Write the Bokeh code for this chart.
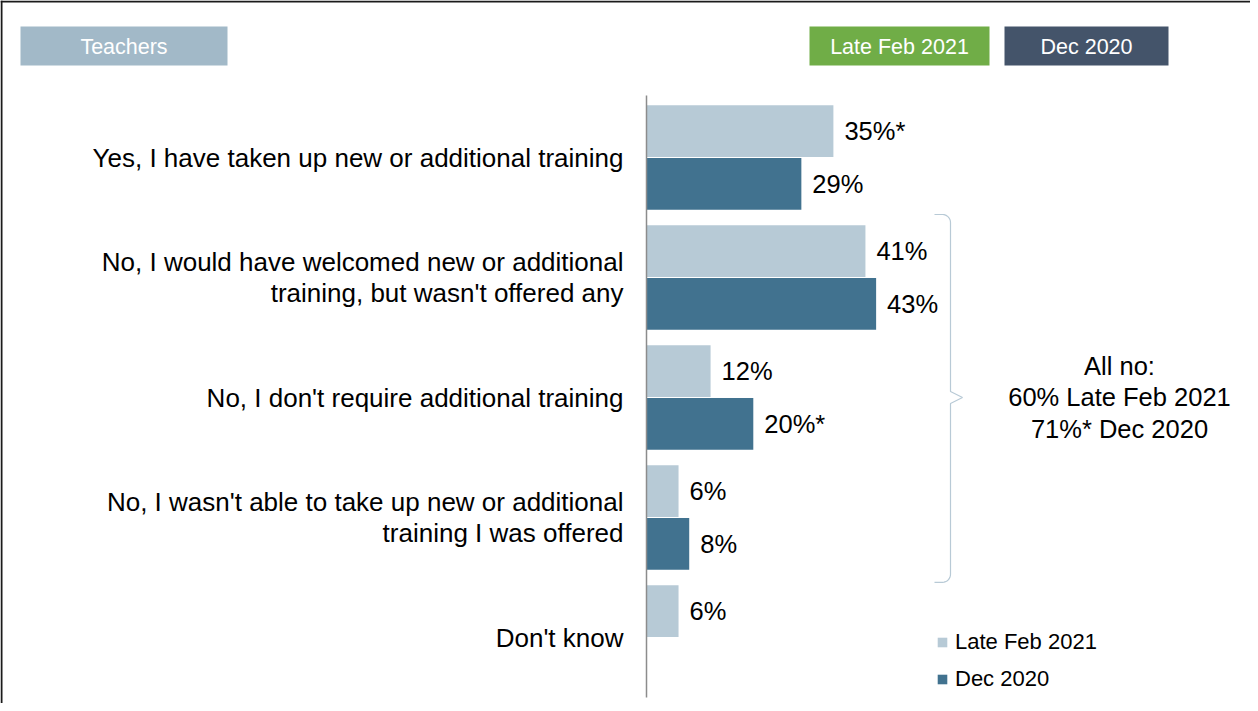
from bokeh.plotting import figure
from bokeh.models import Range1d, Legend, LegendItem, Span, ColumnDataSource
from bokeh.core.properties import value
from bokeh.embed import file_html
from bokeh.resources import INLINE
import math

# ---------------- data ----------------
categories = [
    "Yes, I have taken up new or additional training",
    "No, I would have welcomed new or additional\ntraining, but wasn't offered any",
    "No, I don't require additional training",
    "No, I wasn't able to take up new or additional\ntraining I was offered",
    "Don't know",
]
late_feb_2021 = [35, 41, 12, 6, 6]
dec_2020 = [29, 43, 20, 8, None]
late_sig = [True, False, False, False, False]
dec_sig = [False, False, True, False, False]
series_names = ["Late Feb 2021", "Dec 2020"]
group_title = "Teachers"
all_no_late = 60
all_no_dec = 71
all_no_dec_sig = True

# ---------------- layout helpers ----------------
W, H = 1250, 703
AX = 646.0        # pixel position of the value axis in the figure
PPX = 5.34        # pixels per percentage point
CAT0 = 157.0      # pixel y of first category centre
PPC = 120.0       # pixels per category

def X(px):  # figure px -> data x
    return (px - AX) / PPX

def Y(py):  # figure px -> data y
    return (py - CAT0) / PPC

FONT_NAME = "Liberation Sans"
FONT = value(FONT_NAME)
LIGHT = "#B7CAD6"
DARK = "#41728F"

p = figure(width=W, height=H, output_backend="svg", toolbar_location=None,
           x_range=Range1d(X(0), X(W)), y_range=Range1d(Y(H), Y(0)),
           x_axis_type=None, y_axis_type=None, min_border=0)
p.grid.visible = False
p.outline_line_color = None
p.background_fill_color = "white"

def pct(v, sig):
    return f"{v}%" + ("*" if sig else "")

idx = list(range(len(categories)))
BH = 0.43
OFF = 0.22

late_src = ColumnDataSource(dict(
    y=[i - OFF for i in idx], v=late_feb_2021,
    lab=[pct(v, s) for v, s in zip(late_feb_2021, late_sig)]))
dec_i = [i for i in idx if dec_2020[i] is not None]
dec_src = ColumnDataSource(dict(
    y=[i + OFF for i in dec_i], v=[dec_2020[i] for i in dec_i],
    lab=[pct(dec_2020[i], dec_sig[i]) for i in dec_i]))

r_late = p.hbar(y="y", right="v", left=0, height=BH, source=late_src,
                fill_color=LIGHT, line_color=None)
r_dec = p.hbar(y="y", right="v", left=0, height=BH, source=dec_src,
               fill_color=DARK, line_color=None)

for src in (late_src, dec_src):
    p.text(x="v", y="y", text="lab", source=src, x_offset=11,
           text_baseline="middle", text_align="left",
           text_font=FONT, text_font_size="25.5px", text_color="#000000")

# category labels
p.text(x=[0] * len(categories), y=idx, text=categories, x_offset=-23,
       text_align="right", text_baseline="middle", text_line_height=1.04,
       text_font=FONT, text_font_size="26px", text_color="#000000")

# value axis line
p.segment(x0=[0], y0=[Y(95)], x1=[0], y1=[Y(697)], line_color="#8C8C8C", line_width=1.5)

# outer frame (left and top edges)
p.add_layout(Span(location=X(1), dimension="height", line_color="#1A1A1A", line_width=2))
p.add_layout(Span(location=Y(1), dimension="width", line_color="#1A1A1A", line_width=2))

# header boxes
boxes = [(20, 227, group_title, "#A2B9C8"),
         (809, 989, series_names[0], "#70AD47"),
         (1004, 1168, series_names[1], "#44546A")]
p.quad(left=[X(b[0]) for b in boxes], right=[X(b[1]) for b in boxes],
       top=[Y(26)] * 3, bottom=[Y(65)] * 3,
       fill_color=[b[3] for b in boxes], line_color=None)
p.text(x=[(X(b[0]) + X(b[1])) / 2 for b in boxes], y=[Y(46)] * 3,
       text=[b[2] for b in boxes], text_align="center", text_baseline="middle",
       text_font=FONT, text_font_size="21.5px", text_color="white")

# curly brace grouping the "No" answers
top_y = 1 - 0.525
bot_y = 3 + 0.54
mid_y = 2
bx = X(950)
tip = X(962)
arm = X(934)
r = 8.0  # px
pts_x, pts_y = [], []
def arc(cx, cy, a0, a1, n=8):
    for k in range(n + 1):
        a = a0 + (a1 - a0) * k / n
        pts_x.append(X(cx + r * math.cos(a)))
        pts_y.append(Y(cy + r * math.sin(a)))
ty = CAT0 + top_y * PPC
by = CAT0 + bot_y * PPC
my = CAT0 + mid_y * PPC
pts_x.append(arm); pts_y.append(Y(ty))
arc(950 - r, ty + r, -math.pi / 2, 0)
pts_x += [bx]; pts_y += [Y(my - 6)]
pts_x.append(tip); pts_y.append(Y(my))
pts_x.append(bx); pts_y.append(Y(my + 6))
arc(950 - r, by - r, 0, math.pi / 2)
pts_x.append(arm); pts_y.append(Y(by))
p.line(x=pts_x, y=pts_y, line_color="#B8CAD6", line_width=1.2)

# "All no" annotation
p.text(x=[X(1119)], y=[mid_y], text=[f"All no:\n{all_no_late}% {series_names[0]}\n{all_no_dec}%{'*' if all_no_dec_sig else ''} {series_names[1]}"],
       text_align="center", text_baseline="middle", text_line_height=1.11,
       text_font=FONT, text_font_size="25.5px", text_color="#000000")

legend = Legend(items=[LegendItem(label=series_names[0], renderers=[r_late]),
                       LegendItem(label=series_names[1], renderers=[r_dec])],
                location=(936, 9), orientation="vertical", padding=0, margin=0,
                spacing=7, glyph_width=12, glyph_height=12, label_height=30,
                label_standoff=7, label_text_font=FONT_NAME, label_text_font_size="22px",
                label_text_color="#000000", border_line_color=None,
                background_fill_alpha=0)
p.add_layout(legend)

open("out.html", "w").write(file_html(p, INLINE))
